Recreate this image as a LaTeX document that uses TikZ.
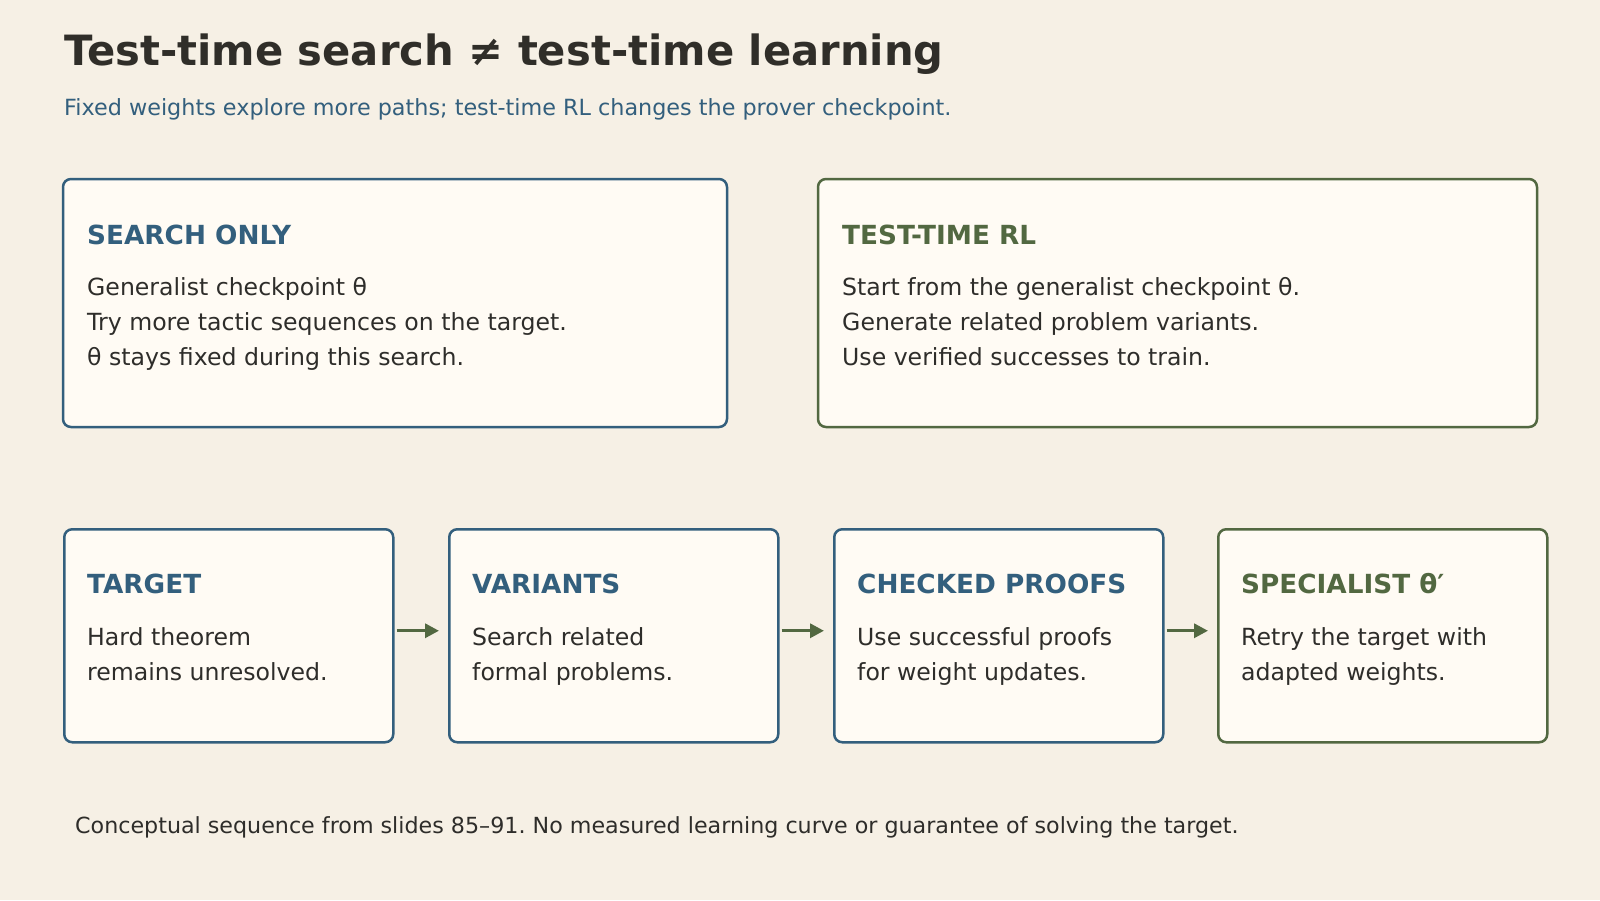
\documentclass[tikz,border=0pt]{standalone}
\usepackage{fontspec}
\setmainfont{DejaVu Sans}
\usetikzlibrary{arrows.meta}
\frenchspacing
\definecolor{bg}{HTML}{F6F0E5}
\definecolor{boxfill}{HTML}{FFFBF4}
\definecolor{blueC}{HTML}{335F7D}
\definecolor{greenC}{HTML}{526841}
\definecolor{ink}{HTML}{2E2D2A}
\definecolor{titleink}{HTML}{302E29}
\tikzset{
  card/.style={draw=#1, fill=boxfill, line width=2.5pt, rounded corners=8pt},
  head/.style={anchor=base west, inner sep=0pt, text=#1, font=\fontsize{26.3}{30}\selectfont\bfseries},
  body/.style={anchor=base west, inner sep=0pt, text=ink, align=left, font=\fontsize{23.6}{35}\selectfont},
  flow/.style={draw=greenC, line width=3.3pt, -{Triangle[length=14pt,width=14pt]}},
}
\begin{document}
\frenchspacing
\begin{tikzpicture}[x=1pt,y=-1pt]
\fill[bg] (0,0) rectangle (1600,900);
\useasboundingbox (0,0) rectangle (1600,900);
\node[anchor=base west, inner sep=0pt, text=titleink, font=\fontsize{41.7}{48}\selectfont\bfseries] (title) at (64,65) {Test-time search ≠ test-time learning};
\node[anchor=base west, inner sep=0pt, text=blueC, font=\fontsize{22.3}{26}\selectfont] (sub) at (64,115.5) {Fixed weights explore more paths; test-time RL changes the prover checkpoint.};
% top cards
\draw[card=blueC] (63,179) rectangle (727,427);
\node[head=blueC] (h1) at (87,244) {SEARCH ONLY};
\node[body] (b1) at (87,365) {Generalist checkpoint θ\\Try more tactic sequences on the target.\\θ stays fixed during this search.};
\draw[card=greenC] (818,179) rectangle (1537,427);
\node[head=greenC] (h2) at (842,244) {TEST-TIME RL};
\node[body] (b2) at (842,365) {Start from the generalist checkpoint θ.\\Generate related problem variants.\\Use verified successes to train.};
% bottom cards
\node[card=blueC, minimum width=329pt, minimum height=213pt, anchor=north west, inner sep=0pt] (c1) at (63,528) {};
\node[card=blueC, minimum width=329pt, minimum height=213pt, anchor=north west, inner sep=0pt] (c2) at (448,528) {};
\node[card=blueC, minimum width=329pt, minimum height=213pt, anchor=north west, inner sep=0pt] (c3) at (833,528) {};
\node[card=greenC, minimum width=329pt, minimum height=213pt, anchor=north west, inner sep=0pt] (c4) at (1217,528) {};
\node[head=blueC] (h3) at (87,593) {TARGET};
\node[body] (b3) at (87,680) {Hard theorem\\remains unresolved.};
\node[head=blueC] (h4) at (472,593) {VARIANTS};
\node[body] (b4) at (472,680) {Search related\\formal problems.};
\node[head=blueC] (h5) at (857,593) {CHECKED PROOFS};
\node[body] (b5) at (857,680) {Use successful proofs\\for weight updates.};
\node[head=greenC] (h6) at (1241,593) {SPECIALIST θ′};
\node[body] (b6) at (1241,680) {Retry the target with\\adapted weights.};
\draw[flow] ([xshift=2pt,yshift=5pt]c1.east) -- ([xshift=-9pt,yshift=5pt]c2.west);
\draw[flow] ([xshift=2pt,yshift=5pt]c2.east) -- ([xshift=-9pt,yshift=5pt]c3.west);
\draw[flow] ([xshift=2pt,yshift=5pt]c3.east) -- ([xshift=-9pt,yshift=5pt]c4.west);
\node[anchor=base west, inner sep=0pt, text=ink, font=\fontsize{22.2}{26}\selectfont] (foot) at (75,833) {Conceptual sequence from slides 85–91. No measured learning curve or guarantee of solving the target.};
\end{tikzpicture}
\end{document}
